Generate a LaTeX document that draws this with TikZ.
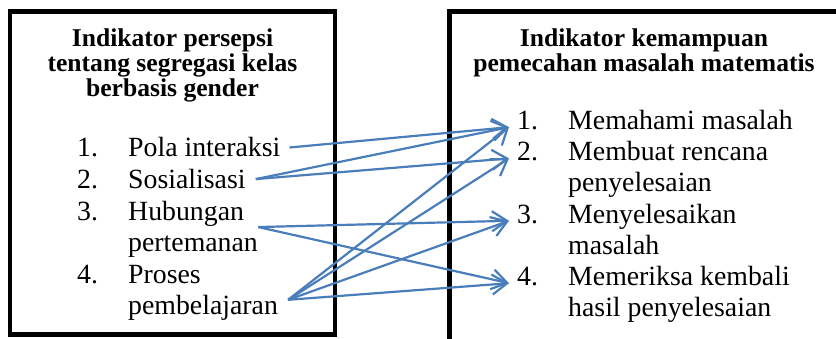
\documentclass[tikz,border=0pt]{standalone}
\usepackage{fontspec}
\setmainfont{Liberation Serif}
\usetikzlibrary{arrows.meta}
\definecolor{arrowblue}{HTML}{4A7EBB}
\begin{document}
\begin{tikzpicture}[x=1pt,y=-1pt,
  box/.style={draw=black,line width=4.5pt},
  ttl/.style={font=\fontsize{25.6}{25}\selectfont\bfseries, inner sep=0pt, anchor=base},
  itm/.style={font=\fontsize{27.8}{31.5}\selectfont, inner sep=0pt, anchor=base west},
  arr/.style={draw=arrowblue, line width=2.2pt, -{Straight Barb[length=15pt,width=20pt]}}]
\useasboundingbox (0,0) rectangle (836,339);
\clip (0,0) rectangle (836,339);
% boxes
\draw[box] (10,11.5) rectangle (335,334.5);
\draw[box] (449.5,11.5) rectangle (838.5,360);
% titles
\node[ttl] (lt1) at (172.5,47) {Indikator persepsi};
\node[ttl] (lt2) at (172.5,72) {tentang segregasi kelas};
\node[ttl] (lt3) at (172.5,97) {berbasis gender};
\node[ttl] (rt1) at (644,47) {Indikator kemampuan};
\node[ttl] (rt2) at (644,72) {pemecahan masalah matematis};
% left list
\node[itm] (l1n) at (77,157) {1.};
\node[itm] (l1)  at (128,157) {Pola interaksi};
\node[itm] (l2n) at (77,188.6) {2.};
\node[itm] (l2)  at (128,188.6) {Sosialisasi};
\node[itm] (l3n) at (77,220.2) {3.};
\node[itm] (l3)  at (128,220.2) {Hubungan};
\node[itm] (l3b) at (128,251.8) {pertemanan};
\node[itm] (l4n) at (77,283.4) {4.};
\node[itm] (l4)  at (128,283.4) {Proses};
\node[itm] (l4b) at (128,315) {pembelajaran};
% right list
\node[itm] (r1n) at (517,129.5) {1.};
\node[itm] (r1)  at (568,129.5) {Memahami masalah};
\node[itm] (r2n) at (517,160.7) {2.};
\node[itm] (r2)  at (568,160.7) {Membuat rencana};
\node[itm] (r2b) at (568,191.9) {penyelesaian};
\node[itm] (r3n) at (517,223.1) {3.};
\node[itm] (r3)  at (568,223.1) {Menyelesaikan};
\node[itm] (r3b) at (568,254.3) {masalah};
\node[itm] (r4n) at (517,285.5) {4.};
\node[itm] (r4)  at (568,285.5) {Memeriksa kembali};
\node[itm] (r4b) at (568,316.7) {hasil penyelesaian};
% arrows
\draw[arr] ([xshift=9pt]l1.east) -- ([xshift=-8pt]r1n.mid west);
\draw[arr] ([xshift=10pt]l2.east) -- ([xshift=-8pt]r1n.mid west);
\draw[arr] ([xshift=10pt]l2.east) -- ([xshift=-8pt]r2n.mid west);
\draw[arr] ([xshift=14pt,yshift=-13.5pt]l3.east) -- ([xshift=-8pt]r3n.mid west);
\draw[arr] ([xshift=14pt,yshift=-13.5pt]l3.east) -- ([xshift=-8pt]r4n.mid west);
\draw[arr] ([xshift=10pt,yshift=8.5pt]l4b.east) -- ([xshift=-8pt]r1n.mid west);
\draw[arr] ([xshift=10pt,yshift=8.5pt]l4b.east) -- ([xshift=-8pt]r2n.mid west);
\draw[arr] ([xshift=10pt,yshift=8.5pt]l4b.east) -- ([xshift=-8pt]r3n.mid west);
\draw[arr] ([xshift=10pt,yshift=8.5pt]l4b.east) -- ([xshift=-8pt]r4n.mid west);
\end{tikzpicture}
\end{document}
